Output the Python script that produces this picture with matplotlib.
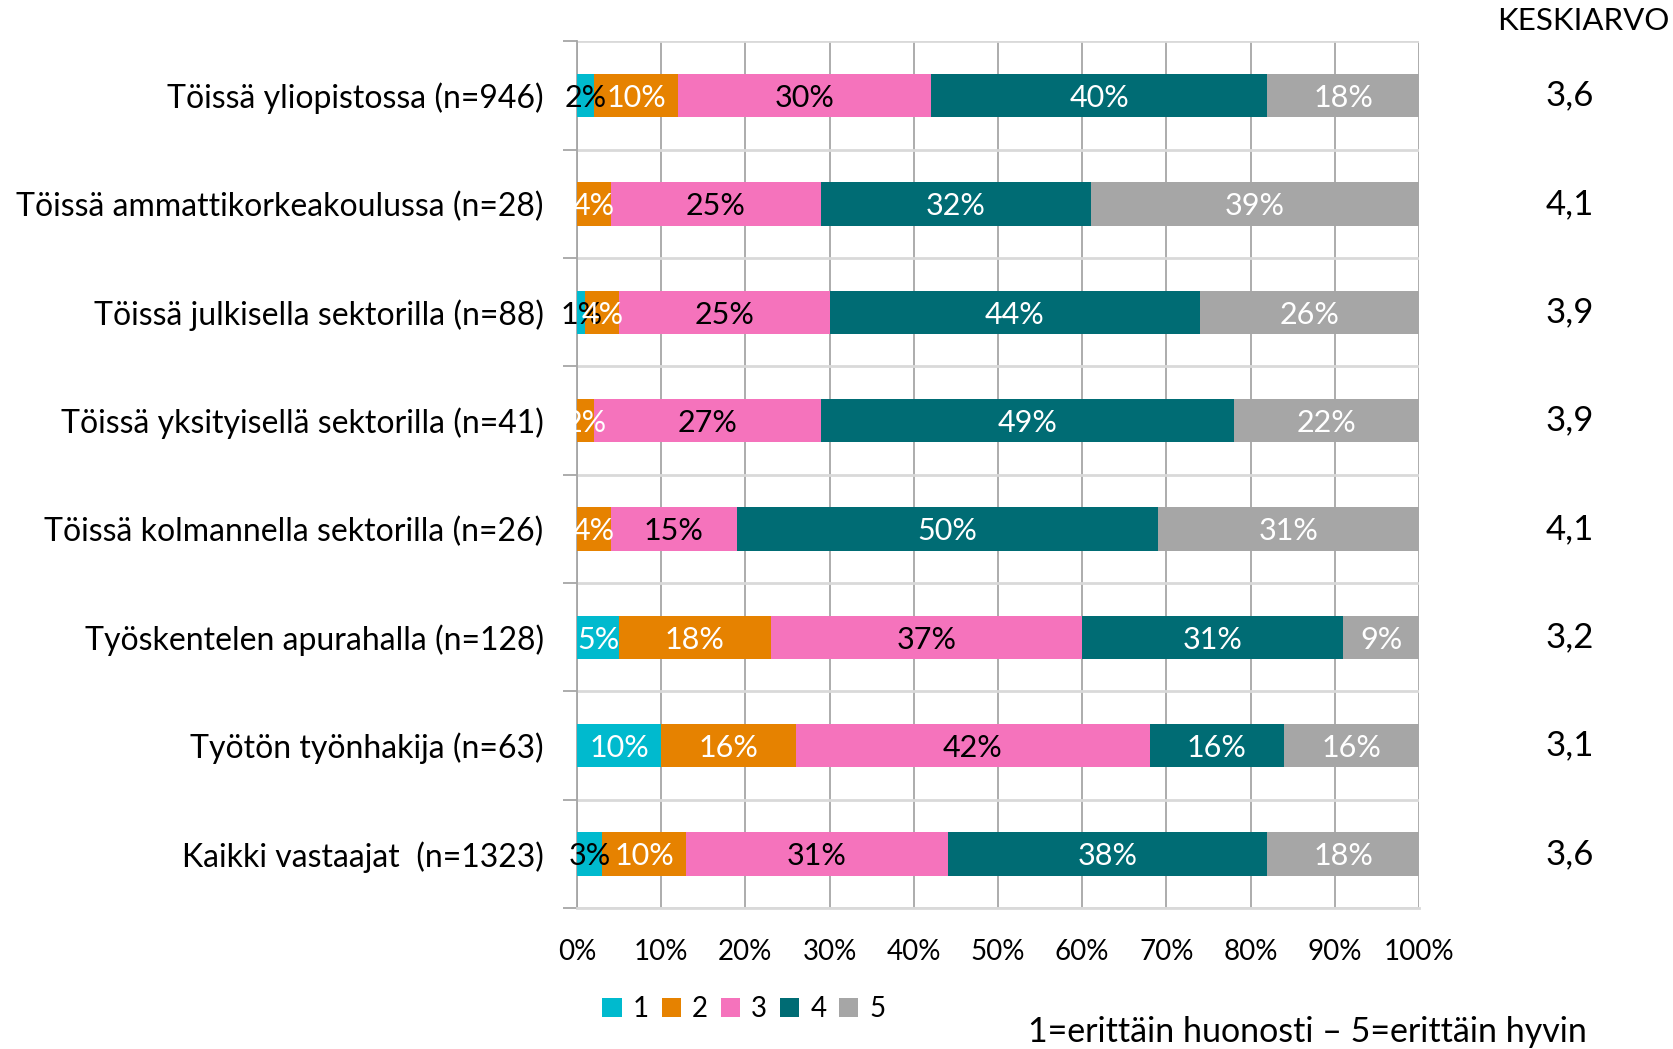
import numpy as np
import matplotlib.pyplot as plt

plt.rcParams['font.family'] = ['Lato', 'DejaVu Sans']

categories = [
    "Töissä yliopistossa (n=946)",
    "Töissä ammattikorkeakoulussa (n=28)",
    "Töissä julkisella sektorilla (n=88)",
    "Töissä yksityisellä sektorilla (n=41)",
    "Töissä kolmannella sektorilla (n=26)",
    "Työskentelen apurahalla (n=128)",
    "Työtön työnhakija (n=63)",
    "Kaikki vastaajat  (n=1323)",
]
s1 = [2, 0, 1, 0, 0, 5, 10, 3]
s2 = [10, 4, 4, 2, 4, 18, 16, 10]
s3 = [30, 25, 25, 27, 15, 37, 42, 31]
s4 = [40, 32, 44, 49, 50, 31, 16, 38]
s5 = [18, 39, 26, 22, 31, 9, 16, 18]
means = [3.6, 4.1, 3.9, 3.9, 4.1, 3.2, 3.1, 3.6]
series_names = ["1", "2", "3", "4", "5"]
colors = ["#00BACE", "#E68200", "#F573BC", "#006C74", "#A6A6A6"]
label_colors = [
    ["black", "black", "black", "black", "black", "white", "white", "black"],
    ["white"] * 8,
    ["black"] * 8,
    ["white"] * 8,
    ["white"] * 8,
]

fig = plt.figure(figsize=(16.74, 10.49), dpi=100)
ax = fig.add_axes([0.3447, 0.1344, 0.503, 0.8262])

y = np.arange(len(categories))
left = np.zeros(len(categories))
for vals, name, col, lcols in zip([s1, s2, s3, s4, s5], series_names, colors, label_colors):
    vals = np.array(vals, dtype=float)
    bars = ax.barh(y, vals, left=left, height=0.4, color=col, label=name, zorder=3)
    for b, v, lc in zip(bars, vals, lcols):
        if v > 0:
            ax.text(b.get_x() + b.get_width() / 2, b.get_y() + b.get_height() / 2,
                    f"{int(v)}%", ha="center", va="center_baseline", color=lc,
                    fontsize=22, zorder=4)
    left += vals

ax.set_xlim(0, 100)
ax.set_ylim(len(categories) - 0.5, -0.5)
ax.set_xticks(np.arange(0, 101, 10), [f"{t}%" for t in range(0, 101, 10)])
ax.set_yticks(y, categories)
ax.set_yticks(np.arange(-0.5, len(categories)), minor=True)
ax.tick_params(axis="x", length=0, pad=22, labelsize=20)
ax.tick_params(axis="y", which="major", length=0, pad=24, labelsize=23)
ax.tick_params(axis="y", which="minor", length=10, color="#A6A6A6", width=1.3)
ax.grid(axis="x", color="#A6A6A6", lw=1.3, zorder=0)
ax.grid(axis="y", which="minor", color="#D9D9D9", lw=2, zorder=0)
for side in ["top", "right"]:
    ax.spines[side].set_visible(False)
ax.spines["left"].set_color("#A6A6A6")
ax.spines["left"].set_linewidth(1.3)
ax.spines["bottom"].set_color("#D9D9D9")
ax.spines["bottom"].set_linewidth(2)

tr = ax.get_yaxis_transform()
for yi, m in zip(y, means):
    ax.text(1.179, yi, f"{m:.1f}".replace(".", ","), transform=tr,
            ha="center", va="center", fontsize=25, clip_on=False)

fig.text(0.946, 0.98, "KESKIARVO", ha="center", va="center", fontsize=22.5)
fig.text(0.614, 0.0162, "1=erittäin huonosti – 5=erittäin hyvin",
         ha="left", va="center", fontsize=24.5)

fig.legend(loc="center", bbox_to_anchor=(0.4444, 0.0381), ncol=5, frameon=False,
           fontsize=20, handlelength=0.7, handleheight=0.7, handletextpad=0.4,
           columnspacing=0.45)

fig.savefig("out.png", dpi=100)
